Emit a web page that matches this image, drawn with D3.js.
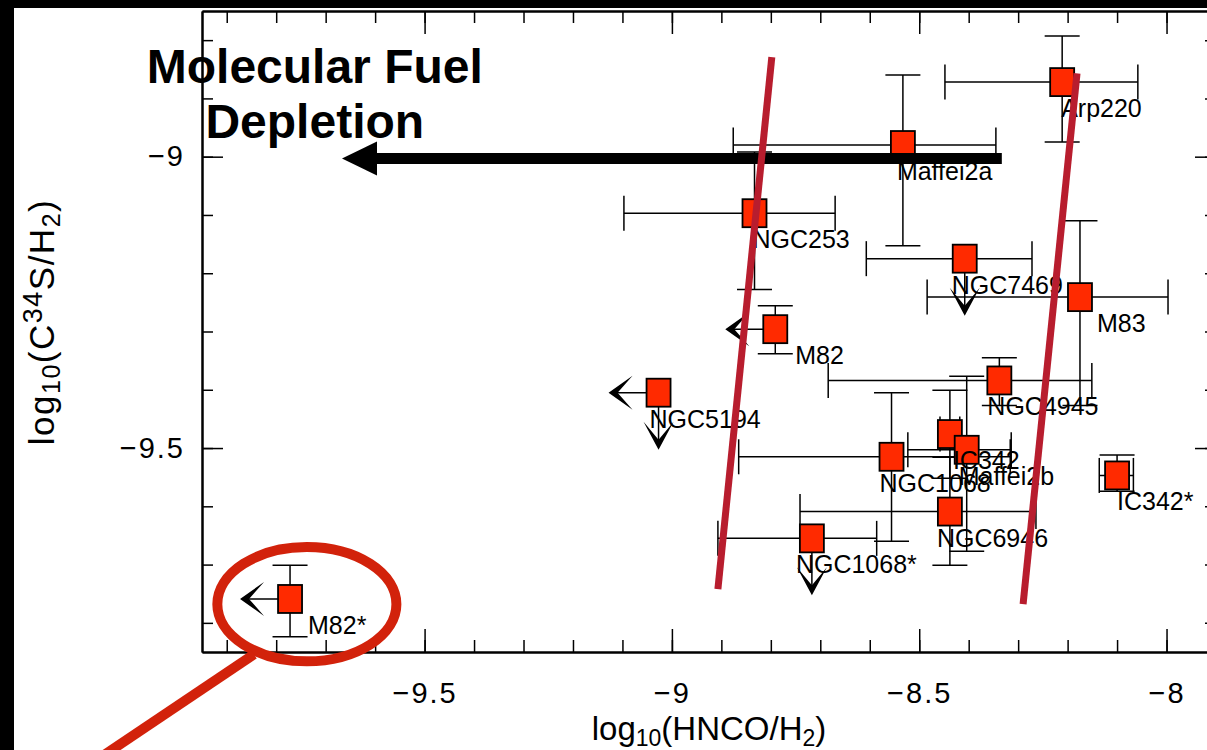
<!DOCTYPE html>
<html>
<head>
<meta charset="utf-8">
<script src="https://cdn.jsdelivr.net/npm/d3@7"></script>
<style>
  body { margin: 0; background: #000; }
  svg { display: block; }
  text { font-family: "Liberation Sans", Arial, sans-serif; fill: #000; }
</style>
</head>
<body>
<div id="chart"></div>
<script>

// galaxies: log10(HNCO/H2) on x, log10(C34S/H2) on y
var names = ["Arp220", "Maffei2a", "NGC253", "NGC7469", "M83", "M82", "NGC5194", "NGC4945",
             "IC342", "Maffei2b", "NGC1068", "NGC6946", "IC342*", "NGC1068*", "M82*"];
var xVals = [-8.211, -8.533, -8.833, -8.408, -8.175, -8.791, -9.027, -8.338,
             -8.438, -8.404, -8.556, -8.438, -8.100, -8.717, -9.772];
var yVals = [-8.872, -8.980, -9.097, -9.175, -9.241, -9.296, -9.405, -9.384,
             -9.476, -9.503, -9.515, -9.609, -9.547, -9.655, -9.759];
// error bar ends (null = no bar)
var xLo = [-8.448, -8.876, -9.097, -8.607, -8.484, null, null, -8.684,
           -8.458, -8.523, -8.865, -8.741, -8.136, -8.907, null];
var xHi = [-8.058, -8.345, -8.670, -8.272, -7.997, null, null, -8.151,
           -8.418, -8.314, -8.316, -8.264, -8.067, -8.586, null];
var yLo = [-8.975, -9.153, -9.228, null, -9.427, -9.338, null, -9.427,
           -9.552, -9.677, -9.660, -9.701, -9.574, null, -9.824];
var yHi = [-8.793, -8.860, -8.992, null, -9.110, -9.256, null, -9.345,
           -9.401, -9.377, -9.405, -9.516, -9.512, null, -9.701];
// upper limits
var xLimit = [false, false, false, false, false, true, true, false,
              false, false, false, false, false, false, true];
var yLimit = [false, false, false, true, false, false, true, false,
              false, false, false, false, false, true, false];

var xMajorTicks = [-9.5, -9, -8.5, -8];
var yMajorTicks = [-9.5, -9];

// annotations, in data units
var fuelLines = [
  [[-8.798, -8.829], [-8.907, -9.742]],
  [[-8.181, -8.857], [-8.290, -9.768]]
];
var depletionArrow = [[-8.333, -9.003], [-9.667, -9.003]];
var titleLines = ["Molecular Fuel", "Depletion"];
var titleAnchor = [-9.722, -8.874];
var circleCenter = [-9.738, -9.768];
var circleRadii = [0.181, 0.098];
var pointerLine = [[-9.845, -9.854], [-10.164, -10.036]];

// label nudges (px) so names sit where the original put them
var labelDx = [-1, -6, -2, -13, 17, 20, -9, -12, 3, -8, -12, -13, 0, -16, 18];

var W = 1207, H = 750;
var margin = {top: 11, left: 202, right: 1216, bottom: 652};

var svg = d3.select("#chart").append("svg")
  .attr("width", W)
  .attr("height", H);

// white panel inside the black frame
svg.append("rect")
  .attr("x", 14).attr("y", 8)
  .attr("width", W - 14).attr("height", H - 8)
  .attr("fill", "white");

var x = d3.scaleLinear().domain([-9.95, -7.9]).range([margin.left, margin.right]);
var y = d3.scaleLinear().domain([-8.75, -9.85]).range([margin.top, margin.bottom]);

var xMinor = d3.range(-99, -78).map(d => d / 10);
var yMinor = d3.range(-98, -87).map(d => d / 10);
var fmt = d3.format("");

function styleAxis(g, fs) {
  g.selectAll(".domain").attr("stroke", "black").attr("stroke-width", 2);
  g.selectAll(".tick line").attr("stroke", "black").attr("stroke-width", 1.5);
  g.selectAll("text").attr("font-size", fs).attr("fill", "black")
    .attr("letter-spacing", 2)
    .attr("font-family", "'Liberation Sans', Arial, sans-serif");
}

// bottom
svg.append("g").attr("transform", "translate(0," + margin.bottom + ")")
  .call(d3.axisBottom(x).tickValues(xMinor).tickSizeInner(-12).tickSizeOuter(0).tickFormat(""))
  .call(g => styleAxis(g, 29));
svg.append("g").attr("transform", "translate(0," + margin.bottom + ")")
  .call(d3.axisBottom(x).tickValues(xMajorTicks).tickSizeInner(-23).tickSizeOuter(0)
    .tickPadding(30).tickFormat(fmt))
  .call(g => styleAxis(g, 29));
// top
svg.append("g").attr("transform", "translate(0," + margin.top + ")")
  .call(d3.axisTop(x).tickValues(xMinor).tickSizeInner(-12).tickSizeOuter(0).tickFormat(""))
  .call(g => styleAxis(g, 29));
svg.append("g").attr("transform", "translate(0," + margin.top + ")")
  .call(d3.axisTop(x).tickValues(xMajorTicks).tickSizeInner(-23).tickSizeOuter(0).tickFormat(""))
  .call(g => styleAxis(g, 29));
// left
svg.append("g").attr("transform", "translate(" + margin.left + ",0)")
  .call(d3.axisLeft(y).tickValues(yMinor).tickSizeInner(-11).tickSizeOuter(0).tickFormat(""))
  .call(g => styleAxis(g, 29));
svg.append("g").attr("transform", "translate(" + margin.left + ",0)")
  .call(d3.axisLeft(y).tickValues(yMajorTicks).tickSizeInner(-21).tickSizeOuter(0)
    .tickPadding(17).tickFormat(fmt))
  .call(g => styleAxis(g, 29));
// right
svg.append("g").attr("transform", "translate(" + margin.right + ",0)")
  .call(d3.axisRight(y).tickValues(yMinor).tickSizeInner(-11).tickSizeOuter(0).tickFormat(""))
  .call(g => styleAxis(g, 29));
svg.append("g").attr("transform", "translate(" + margin.right + ",0)")
  .call(d3.axisRight(y).tickValues(yMajorTicks).tickSizeInner(-21).tickSizeOuter(0).tickFormat(""))
  .call(g => styleAxis(g, 29));

// axis titles
var xt = svg.append("text")
  .attr("x", (margin.left + margin.right) / 2)
  .attr("y", 740)
  .attr("text-anchor", "middle")
  .attr("font-size", 33);
xt.append("tspan").text("log");
xt.append("tspan").attr("baseline-shift", "-25%").attr("font-size", 23).text("10");
xt.append("tspan").text("(HNCO/H");
xt.append("tspan").attr("baseline-shift", "-25%").attr("font-size", 23).text("2");
xt.append("tspan").text(")");

var yt = svg.append("text")
  .attr("transform", "translate(54,322) rotate(-90)")
  .attr("text-anchor", "middle")
  .attr("font-size", 35)
  .attr("letter-spacing", 1.5);
yt.append("tspan").text("log");
yt.append("tspan").attr("baseline-shift", "-25%").attr("font-size", 25).text("10");
yt.append("tspan").text("(C");
yt.append("tspan").attr("baseline-shift", "45%").attr("font-size", 27).text("34");
yt.append("tspan").text("S/H");
yt.append("tspan").attr("baseline-shift", "-25%").attr("font-size", 25).text("2");
yt.append("tspan").text(")");

// error bars
var cap = 17.5;
var idx = d3.range(names.length);
var eb = svg.append("g").attr("stroke", "black").attr("stroke-width", 1.5).attr("fill", "none");

idx.forEach(function(i) {
  var cx = x(xVals[i]), cy = y(yVals[i]);
  if (xLo[i] !== null) {
    var x0 = x(xLo[i]), x1 = x(xHi[i]);
    eb.append("line").attr("x1", x0).attr("x2", x1).attr("y1", cy).attr("y2", cy);
    eb.append("line").attr("x1", x0).attr("x2", x0).attr("y1", cy - cap).attr("y2", cy + cap);
    eb.append("line").attr("x1", x1).attr("x2", x1).attr("y1", cy - cap).attr("y2", cy + cap);
  }
  if (yLo[i] !== null) {
    var y0 = y(yLo[i]), y1 = y(yHi[i]);
    eb.append("line").attr("x1", cx).attr("x2", cx).attr("y1", y0).attr("y2", y1);
    eb.append("line").attr("x1", cx - cap).attr("x2", cx + cap).attr("y1", y0).attr("y2", y0);
    eb.append("line").attr("x1", cx - cap).attr("x2", cx + cap).attr("y1", y1).attr("y2", y1);
  }
  if (xLimit[i]) {
    var tx = cx - 50;
    eb.append("line").attr("x1", cx).attr("x2", tx + 4).attr("y1", cy).attr("y2", cy);
    eb.append("path")
      .attr("d", "M" + tx + "," + cy + "L" + (tx + 24) + "," + (cy - 17) + "L" + (tx + 9) + "," + cy +
                 "L" + (tx + 24) + "," + (cy + 17) + "Z")
      .attr("fill", "black").attr("stroke", "none");
  }
  if (yLimit[i]) {
    var ty = cy + 57;
    eb.append("line").attr("x1", cx).attr("x2", cx).attr("y1", cy).attr("y2", ty - 4);
    eb.append("path")
      .attr("d", "M" + cx + "," + ty + "L" + (cx - 15) + "," + (ty - 28) + "L" + cx + "," + (ty - 10) +
                 "L" + (cx + 15) + "," + (ty - 28) + "Z")
      .attr("fill", "black").attr("stroke", "none");
  }
});

// markers
svg.append("g").selectAll("rect")
  .data(idx)
  .enter()
  .append("rect")
    .attr("x", d => x(xVals[d]) - 12)
    .attr("y", d => y(yVals[d]) - 14)
    .attr("width", 24)
    .attr("height", 28)
    .attr("fill", "#ff2a00")
    .attr("stroke", "black")
    .attr("stroke-width", 1.8);

// names
svg.append("g").selectAll("text")
  .data(idx)
  .enter()
  .append("text")
    .attr("x", d => x(xVals[d]) + labelDx[d])
    .attr("y", d => y(yVals[d]) + 35)
    .attr("font-size", 25)
    .text(d => names[d]);

// depletion arrow
var ax0 = x(depletionArrow[0][0]), ax1 = x(depletionArrow[1][0]), ay = y(depletionArrow[0][1]);
svg.append("line")
  .attr("x1", ax0).attr("x2", ax1 + 34)
  .attr("y1", ay).attr("y2", ay)
  .attr("stroke", "black").attr("stroke-width", 11);
svg.append("path")
  .attr("d", "M" + ax1 + "," + ay + "L" + (ax1 + 35) + "," + (ay - 17) + "L" + (ax1 + 35) + "," + (ay + 17) + "Z")
  .attr("fill", "black");

// fuel lines
svg.append("g").selectAll("line")
  .data(fuelLines)
  .enter()
  .append("line")
    .attr("x1", d => x(d[0][0])).attr("y1", d => y(d[0][1]))
    .attr("x2", d => x(d[1][0])).attr("y2", d => y(d[1][1]))
    .attr("stroke", "#b81d2e")
    .attr("stroke-width", 7);

// title
svg.append("g").selectAll("text")
  .data(titleLines)
  .enter()
  .append("text")
    .attr("x", x(titleAnchor[0]))
    .attr("y", (d, i) => y(titleAnchor[1]) + i * 55)
    .attr("text-anchor", "middle")
    .attr("font-size", 48)
    .attr("font-weight", "bold")
    .text(d => d);

// highlight around M82*
var ccx = x(circleCenter[0]), ccy = y(circleCenter[1]);
svg.append("ellipse")
  .attr("cx", ccx).attr("cy", ccy)
  .attr("rx", x(circleCenter[0] + circleRadii[0]) - ccx)
  .attr("ry", y(circleCenter[1] - circleRadii[1]) - ccy)
  .attr("fill", "none")
  .attr("stroke", "#d2220b")
  .attr("stroke-width", 10);
svg.append("line")
  .attr("x1", x(pointerLine[0][0])).attr("y1", y(pointerLine[0][1]))
  .attr("x2", x(pointerLine[1][0])).attr("y2", y(pointerLine[1][1]))
  .attr("stroke", "#d2220b")
  .attr("stroke-width", 10);

</script>
</body>
</html>
